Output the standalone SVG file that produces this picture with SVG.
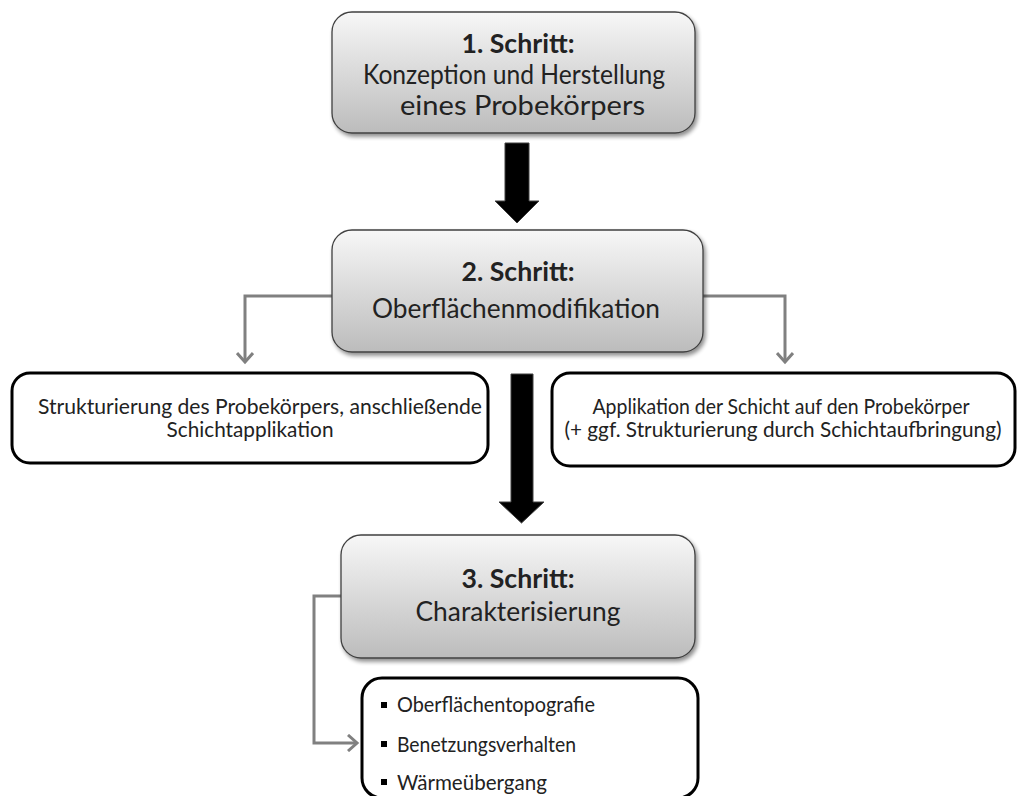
<svg xmlns="http://www.w3.org/2000/svg" width="1017" height="796" viewBox="0 0 1017 796">
<defs>
<linearGradient id="g" x1="0" y1="0" x2="0" y2="1">
<stop offset="0" stop-color="#f7f7f7"/>
<stop offset="1" stop-color="#bcbcbc"/>
</linearGradient>
<filter id="sh" x="-10%" y="-10%" width="125%" height="130%">
<feGaussianBlur in="SourceAlpha" stdDeviation="2"/>
<feOffset dx="2" dy="3" result="b"/>
<feComponentTransfer><feFuncA type="linear" slope="0.45"/></feComponentTransfer>
<feMerge><feMergeNode/><feMergeNode in="SourceGraphic"/></feMerge>
</filter>
<marker id="open" viewBox="0 0 14 18" refX="11" refY="9" markerWidth="14" markerHeight="18" markerUnits="userSpaceOnUse" orient="auto">
<path d="M2,1 L11,9 L2,17" fill="none" stroke="#808080" stroke-width="3"/>
</marker>
</defs>
<style>
.step{fill:url(#g);stroke:#404040;stroke-width:1.3;filter:url(#sh)}
.plain{fill:#fff;stroke:#000;stroke-width:3}
.t{font-family:Lato,"Liberation Sans",sans-serif;fill:#222}
.big{font-size:27px}
.bold{font-weight:bold}
.mid{font-size:21px}
.conn{fill:none;stroke:#808080;stroke-width:3}
.block{fill:#000;stroke:#404040;stroke-width:1}
</style>
<rect width="1017" height="796" fill="#fff"/>

<g id="connectors">
<path class="conn" d="M332,296 H245 V362" marker-end="url(#open)"/>
<path class="conn" d="M703,296 H785 V362" marker-end="url(#open)"/>
<path class="conn" d="M341,596 H314 V743 H357" marker-end="url(#open)"/>
<polygon class="block" points="505,143 529,143 529,201 539,201 517,223 495,201 505,201"/>
<polygon class="block" points="511,374 533,374 533,502 544,502 521.5,523 499,502 511,502"/>
</g>

<g id="step1">
<rect class="step" x="332" y="12" width="363" height="121" rx="20"/>
<text class="t big bold" x="518" y="53" text-anchor="middle" textLength="113" lengthAdjust="spacingAndGlyphs">1. Schritt:</text>
<text class="t big" x="363" y="84" textLength="302" lengthAdjust="spacingAndGlyphs">Konzeption und Herstellung</text>
<text class="t big" x="400" y="115" textLength="245" lengthAdjust="spacingAndGlyphs">eines Probekörpers</text>
</g>

<g id="step2">
<rect class="step" x="332" y="230" width="371" height="122" rx="20"/>
<text class="t big bold" x="518" y="281" text-anchor="middle" textLength="113" lengthAdjust="spacingAndGlyphs">2. Schritt:</text>
<text class="t big" x="372" y="318" textLength="288" lengthAdjust="spacingAndGlyphs">Oberflächenmodifikation</text>
</g>

<g id="option-left">
<rect class="plain" x="12" y="373" width="476" height="90" rx="18"/>
<text class="t mid" x="38" y="414" textLength="444" lengthAdjust="spacingAndGlyphs">Strukturierung des Probekörpers, anschließende</text>
<text class="t mid" x="250" y="437" text-anchor="middle" textLength="167" lengthAdjust="spacingAndGlyphs">Schichtapplikation</text>
</g>

<g id="option-right">
<rect class="plain" x="552" y="373" width="463" height="93" rx="18"/>
<text class="t mid" x="781" y="414" text-anchor="middle" textLength="377" lengthAdjust="spacingAndGlyphs">Applikation der Schicht auf den Probekörper</text>
<text class="t mid" x="783" y="437" text-anchor="middle" textLength="437" lengthAdjust="spacingAndGlyphs">(+ ggf. Strukturierung durch Schichtaufbringung)</text>
</g>

<g id="step3">
<rect class="step" x="341" y="535" width="354" height="123" rx="20"/>
<text class="t big bold" x="518" y="588" text-anchor="middle" textLength="113" lengthAdjust="spacingAndGlyphs">3. Schritt:</text>
<text class="t big" x="518" y="621" text-anchor="middle" textLength="205" lengthAdjust="spacingAndGlyphs">Charakterisierung</text>
</g>

<g id="characterisation-list">
<rect class="plain" x="362" y="678" width="336" height="120" rx="20"/>
<rect x="381" y="702" width="6" height="6" fill="#000"/>
<text class="t mid" x="397" y="712" textLength="198" lengthAdjust="spacingAndGlyphs">Oberflächentopografie</text>
<rect x="381" y="741" width="6" height="6" fill="#000"/>
<text class="t mid" x="397" y="752" textLength="179" lengthAdjust="spacingAndGlyphs">Benetzungsverhalten</text>
<rect x="381" y="779" width="6" height="6" fill="#000"/>
<text class="t mid" x="397" y="790" textLength="150" lengthAdjust="spacingAndGlyphs">Wärmeübergang</text>
</g>
</svg>
